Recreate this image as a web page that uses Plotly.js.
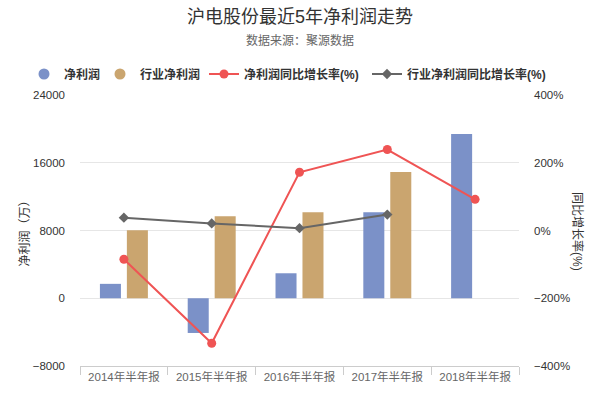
<!DOCTYPE html>
<html>
<head>
<meta charset="utf-8">
<script src="https://cdn.plot.ly/plotly-3.0.1.min.js"></script>
<style>
  html, body { margin: 0; padding: 0; background: #fff; }
  #plot { width: 600px; height: 400px; }
</style>
</head>
<body>
<div id="plot"></div>
<script>
// data
var categories = ["2014年半年报", "2015年半年报", "2016年半年报", "2017年半年报", "2018年半年报"];
var netProfit = [1700, -4100, 2950, 10150, 19400];           // 净利润 (万)
var industryProfit = [8030, 9680, 10150, 14910, null];       // 行业净利润 (万)
var profitGrowth = [-85, -333, 172, 239, 92];                // 净利润同比增长率 (%)
var industryGrowth = [38, 21, 7, 47, null];                  // 行业净利润同比增长率 (%)

var font = '"Liberation Sans", "Noto Sans CJK SC", sans-serif';
var blue = "#7b91c8";
var tan = "#caa56f";
var red = "#ef5454";
var gray = "#666666";

// legend-only markers (bars show round keys in the reference)
var legBlue = {
  x: [null], y: [null], type: "scatter", mode: "markers", name: "净利润",
  marker: { color: blue, size: 11, symbol: "circle" }, hoverinfo: "skip", legend: "legend"
};
var legTan = {
  x: [null], y: [null], type: "scatter", mode: "markers", name: "行业净利润",
  marker: { color: tan, size: 11, symbol: "circle" }, hoverinfo: "skip", legend: "legend2"
};

var trace1 = {
  x: categories, y: netProfit, type: "bar", name: "净利润",
  marker: { color: blue }, showlegend: false
};
var trace2 = {
  x: categories, y: industryProfit, type: "bar", name: "行业净利润",
  marker: { color: tan }, showlegend: false
};
var trace3 = {
  x: categories, y: profitGrowth, type: "scatter", mode: "lines+markers",
  name: "净利润同比增长率(%)", yaxis: "y2", legend: "legend3",
  line: { color: red, width: 2 }, marker: { color: red, size: 9 }
};
var trace4 = {
  x: categories, y: industryGrowth, type: "scatter", mode: "lines+markers",
  name: "行业净利润同比增长率(%)", yaxis: "y2", legend: "legend4",
  line: { color: gray, width: 2 }, marker: { color: gray, size: 8, symbol: "diamond" }
};

var data = [legBlue, legTan, trace1, trace2, trace3, trace4];

function legendAt(px) {
  return {
    orientation: "h", xref: "container", x: px / 600, xanchor: "left",
    yref: "container", y: 1 - 74 / 400, yanchor: "middle",
    font: { family: font, size: 12, color: "#333", weight: "bold" },
    itemwidth: 30, bgcolor: "rgba(0,0,0,0)"
  };
}

var layout = {
  width: 600, height: 400,
  margin: { l: 80, r: 81, t: 95, b: 34 },
  paper_bgcolor: "#fff", plot_bgcolor: "#fff",
  font: { family: font, size: 12, color: "#333" },
  title: {
    text: "沪电股份最近5年净利润走势",
    font: { family: font, size: 18, color: "#333" },
    x: 0.5, xanchor: "center", y: 1 - 17 / 400, yanchor: "middle", yref: "container"
  },
  barmode: "group",
  bargap: 0.386,
  bargroupgap: 0.22,
  showlegend: true,
  legend: legendAt(24),
  legend2: legendAt(100),
  legend3: legendAt(204),
  legend4: legendAt(367),
  xaxis: {
    type: "category",
    showline: true, linecolor: "#ccc", linewidth: 1,
    ticks: "outside", tickson: "boundaries", ticklen: 8, tickcolor: "#ccc",
    showgrid: false,
    tickfont: { family: font, size: 11.5, color: "#666" }
  },
  yaxis: {
    range: [-8000, 24000], dtick: 8000, tick0: 0, tickformat: "d",
    showgrid: true, gridcolor: "#e6e6e6", zeroline: false, showline: false,
    ticks: "", ticklabelstandoff: 14,
    tickfont: { family: font, size: 11.5, color: "#333" },
    title: { text: "净利润（万）", font: { family: font, size: 12, color: "#333" }, standoff: 0 }
  },
  yaxis2: {
    overlaying: "y", side: "right",
    range: [-400, 400], dtick: 200, tick0: 0, ticksuffix: "%",
    showgrid: false, zeroline: false, showline: false,
    ticks: "", ticklabelstandoff: 14,
    tickfont: { family: font, size: 11.5, color: "#333" }
  },
  annotations: [
    {
      text: "数据来源：聚源数据", showarrow: false,
      xref: "paper", x: 0.5, xanchor: "center",
      yref: "paper", y: (366 - 40) / 271, yanchor: "middle",
      font: { family: font, size: 12, color: "#666" }
    },
    {
      text: "同比增长率(%)", showarrow: false, textangle: 90,
      xref: "paper", x: (578 - 80) / 439, xanchor: "center",
      yref: "paper", y: (366 - 231) / 271, yanchor: "middle",
      font: { family: font, size: 12, color: "#333" }
    }
  ]
};

Plotly.newPlot("plot", data, layout, { displayModeBar: false });
</script>
</body>
</html>
